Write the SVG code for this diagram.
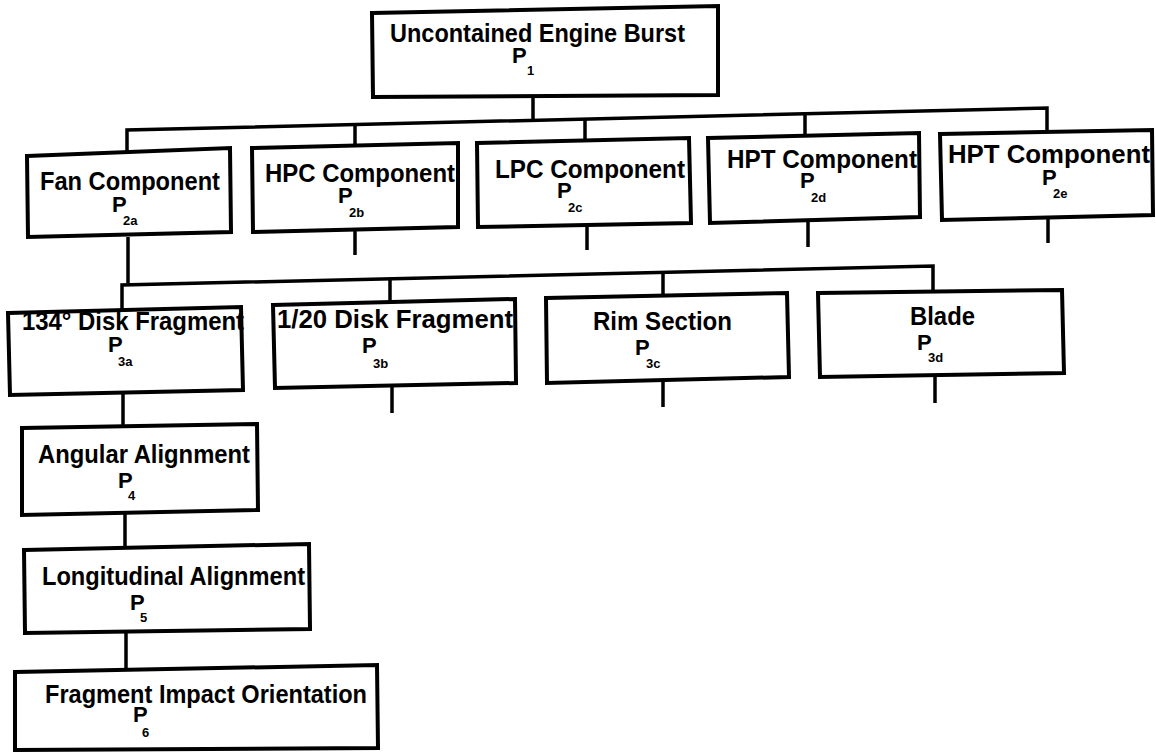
<svg xmlns="http://www.w3.org/2000/svg" width="1156" height="752" viewBox="0 0 1156 752">
<style>
.box{fill:#fff;stroke:#000;stroke-width:4;stroke-linejoin:miter}
.ln{fill:none;stroke:#000;stroke-width:3.5;stroke-linecap:butt;stroke-linejoin:miter}
.t{font-family:"Liberation Sans",Arial,Helvetica,sans-serif;font-weight:bold;font-size:25px;fill:#000}
.p{font-family:"Liberation Sans",Arial,Helvetica,sans-serif;font-weight:bold;font-size:22px;fill:#000}
.s{font-family:"Liberation Sans",Arial,Helvetica,sans-serif;font-weight:bold;font-size:13px;fill:#000}
</style>
<rect width="1156" height="752" fill="#fff"/>
<g id="connectors">
<path class="ln" d="M533 97 V120"/>
<path class="ln" d="M127 155 V130 L1047 108 V132"/>
<path class="ln" d="M355 124.5 V146"/>
<path class="ln" d="M585 119 V141"/>
<path class="ln" d="M805 114 V136"/>
<path class="ln" d="M128 237 V283"/>
<path class="ln" d="M355 230 V255"/>
<path class="ln" d="M587 225 V250"/>
<path class="ln" d="M808 220 V247"/>
<path class="ln" d="M1048 217 V243"/>
<path class="ln" d="M122 309 V285 L933 266 V291"/>
<path class="ln" d="M390 278.7 V302"/>
<path class="ln" d="M663 272.3 V296"/>
<path class="ln" d="M392 386 V413"/>
<path class="ln" d="M663 380 V407"/>
<path class="ln" d="M935 375 V403"/>
<path class="ln" d="M123 393 V426"/>
<path class="ln" d="M125 513 V547"/>
<path class="ln" d="M126 631 V670"/>
</g>
<g id="n-p1">
<polygon class="box" points="372,13 718,6 718,95 373,97"/>
<text class="t" x="390" y="42" textLength="295" lengthAdjust="spacingAndGlyphs">Uncontained Engine Burst</text>
<text class="p" x="512" y="63">P</text><text class="s" x="527" y="75">1</text>
</g>
<g id="n-p2a">
<polygon class="box" points="27,156 230,148 231,232 28,237"/>
<text class="t" x="40" y="190" textLength="180" lengthAdjust="spacingAndGlyphs">Fan Component</text>
<text class="p" x="112" y="212">P</text><text class="s" x="123" y="225">2a</text>
</g>
<g id="n-p2b">
<polygon class="box" points="252,148 458,143 458,227 253,232"/>
<text class="t" x="265" y="182" textLength="190" lengthAdjust="spacingAndGlyphs">HPC Component</text>
<text class="p" x="338" y="203">P</text><text class="s" x="349" y="217">2b</text>
</g>
<g id="n-p2c">
<polygon class="box" points="477,143 689,138 691,223 478,227"/>
<text class="t" x="495" y="178" textLength="190" lengthAdjust="spacingAndGlyphs">LPC Component</text>
<text class="p" x="557" y="198">P</text><text class="s" x="568" y="212">2c</text>
</g>
<g id="n-p2d">
<polygon class="box" points="708,138 919,133 920,217 710,223"/>
<text class="t" x="727" y="168" textLength="190" lengthAdjust="spacingAndGlyphs">HPT Component</text>
<text class="p" x="800" y="188">P</text><text class="s" x="811" y="202">2d</text>
</g>
<g id="n-p2e">
<polygon class="box" points="940,134 1152,130 1153,215 942,220"/>
<text class="t" x="948" y="163" textLength="202" lengthAdjust="spacingAndGlyphs">HPT Component</text>
<text class="p" x="1042" y="185">P</text><text class="s" x="1053" y="198">2e</text>
</g>
<g id="n-p3a">
<polygon class="box" points="8,313 241,307 243,390 10,395"/>
<text class="t" x="22" y="330" textLength="222" lengthAdjust="spacingAndGlyphs">134° Disk Fragment</text>
<text class="p" x="108" y="352">P</text><text class="s" x="118" y="366">3a</text>
</g>
<g id="n-p3b">
<polygon class="box" points="273,305 515,299 516,383 275,388"/>
<text class="t" x="277" y="328" textLength="236" lengthAdjust="spacingAndGlyphs">1/20 Disk Fragment</text>
<text class="p" x="362" y="353">P</text><text class="s" x="373" y="368">3b</text>
</g>
<g id="n-p3c">
<polygon class="box" points="546,298 787,293 789,377 547,383"/>
<text class="t" x="593" y="330" textLength="139" lengthAdjust="spacingAndGlyphs">Rim Section</text>
<text class="p" x="635" y="355">P</text><text class="s" x="646" y="368">3c</text>
</g>
<g id="n-p3d">
<polygon class="box" points="818,293 1062,290 1064,373 820,377"/>
<text class="t" x="910" y="325" textLength="65" lengthAdjust="spacingAndGlyphs">Blade</text>
<text class="p" x="917" y="350">P</text><text class="s" x="928" y="362">3d</text>
</g>
<g id="n-p4">
<polygon class="box" points="22,428 257,424 258,510 22,515"/>
<text class="t" x="38" y="463" textLength="212" lengthAdjust="spacingAndGlyphs">Angular Alignment</text>
<text class="p" x="118" y="488">P</text><text class="s" x="128" y="500">4</text>
</g>
<g id="n-p5">
<polygon class="box" points="24,550 309,544 310,629 25,633"/>
<text class="t" x="42" y="585" textLength="263" lengthAdjust="spacingAndGlyphs">Longitudinal Alignment</text>
<text class="p" x="130" y="610">P</text><text class="s" x="140" y="622">5</text>
</g>
<g id="n-p6">
<polygon class="box" points="15,672 377,665 378,748 15,750"/>
<text class="t" x="45" y="703" textLength="322" lengthAdjust="spacingAndGlyphs">Fragment Impact Orientation</text>
<text class="p" x="133" y="722">P</text><text class="s" x="142" y="737">6</text>
</g>
</svg>
